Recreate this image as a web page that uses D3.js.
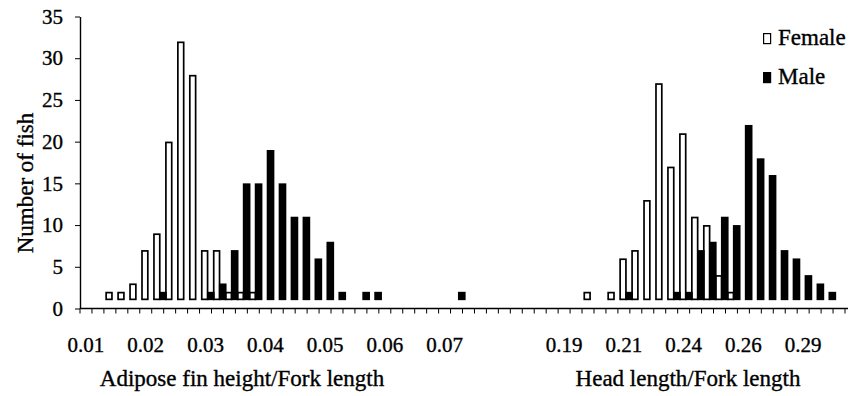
<!DOCTYPE html>
<html>
<head>
<meta charset="utf-8">
<script src="https://cdnjs.cloudflare.com/ajax/libs/d3/7.8.5/d3.min.js"></script>
<style>
    body { margin: 0; background: #fff; }
    #chart text { stroke: #000; stroke-width: 0.35px; }
</style>
</head>
<body>
<div id="chart"></div>
<script>
// adipose fin height / fork length bins (step 0.002)
var adiposeBins = ["0.010", "0.012", "0.014", "0.016", "0.018", "0.020", "0.022", "0.024", "0.026", "0.028",
    "0.030", "0.032", "0.034", "0.036", "0.038", "0.040", "0.042", "0.044", "0.046", "0.048",
    "0.050", "0.052", "0.054", "0.056", "0.058", "0.060", "0.062", "0.064", "0.066", "0.068",
    "0.070", "0.072", "0.074", "0.076", "0.078", "0.080", "0.082", "0.084", "0.086", "0.088"];
var adiposeFemale = [0, 0, 2, 2, 3, 7, 9, 20, 32, 28, 7, 7, 2, 2, 2, 0, 0, 0, 0, 0,
    0, 0, 0, 0, 0, 0, 0, 0, 0, 0, 0, 0, 0, 0, 0, 0, 0, 0, 0, 0];
var adiposeMale = [0, 0, 0, 0, 0, 0, 2, 0, 0, 0, 2, 3, 7, 15, 15, 19, 15, 11, 11, 6,
    8, 2, 0, 2, 2, 0, 0, 0, 0, 0, 0, 2, 0, 0, 0, 0, 0, 0, 0, 0];

// head length / fork length bins (step 0.005)
var headBins = ["0.190", "0.195", "0.200", "0.205", "0.210", "0.215", "0.220", "0.225", "0.230", "0.235",
    "0.240", "0.245", "0.250", "0.255", "0.260", "0.265", "0.270", "0.275", "0.280", "0.285",
    "0.290", "0.295", "0.300", "0.305"];
var headFemale = [0, 0, 2, 0, 2, 6, 7, 13, 27, 17, 21, 11, 10, 4, 2, 0, 0, 0, 0, 0, 0, 0, 0, 0];
var headMale = [0, 0, 0, 0, 0, 2, 0, 0, 0, 2, 2, 7, 8, 11, 10, 22, 18, 16, 7, 6, 4, 3, 2, 0];

var yTicks = [0, 5, 10, 15, 20, 25, 30, 35];
var xTickBins = ["0.010", "0.020", "0.030", "0.040", "0.050", "0.060", "0.070",
    "0.190", "0.215", "0.240", "0.265", "0.290"];
var xTickLabels = ["0.01", "0.02", "0.03", "0.04", "0.05", "0.06", "0.07",
    "0.19", "0.21", "0.24", "0.26", "0.29"];
var seriesNames = ["Female", "Male"];

var width = 852, height = 396;
var margin = { left: 80, right: 7, top: 16.5, bottom: 87.5 };
var barFloor = 1; // bars in the figure start one unit above the axis
var serif = '"Liberation Serif", "Times New Roman", "DejaVu Serif", serif';

var bins = adiposeBins.concat(headBins);
var female = adiposeFemale.concat(headFemale);
var male = adiposeMale.concat(headMale);
var rows = bins.map(function (b, i) {
    return { bin: b, female: female[i], male: male[i] };
});

var svg = d3.select('#chart')
    .append('svg')
    .attr('width', width)
    .attr('height', height);

var xScale = d3.scaleBand()
    .domain(bins)
    .range([margin.left, width - margin.right])
    .padding(0);
var yScale = d3.scaleLinear()
    .domain([0, 35])
    .range([height - margin.bottom, margin.top]);
var bw = xScale.bandwidth();
var y0 = yScale(0);

// female bars (white), drawn first
svg.append('g')
    .selectAll('rect')
    .data(rows.filter(d => d.female > 0))
    .enter()
    .append('rect')
    .attr('x', d => xScale(d.bin) + bw * 0.12 + 0.8)
    .attr('width', bw * 0.62 - 1.6)
    .attr('y', d => yScale(d.female) + 0.8)
    .attr('height', d => yScale(barFloor) - yScale(d.female) - 1.6)
    .style('fill', '#fff')
    .style('stroke', '#000')
    .style('stroke-width', 1.7);

// male bars (black) on top
svg.append('g')
    .selectAll('rect')
    .data(rows.filter(d => d.male > 0))
    .enter()
    .append('rect')
    .attr('x', d => xScale(d.bin) + bw * 0.62)
    .attr('width', bw * 0.64)
    .attr('y', d => yScale(d.male))
    .attr('height', d => yScale(barFloor) - yScale(d.male))
    .style('fill', '#000');

// y axis
var yAxis = svg.append('g')
    .attr('transform', 'translate(' + margin.left + ',0)')
    .call(d3.axisLeft(yScale).tickValues(yTicks).tickSize(5).tickSizeOuter(0).tickPadding(12));
yAxis.select('.domain').style('stroke', '#000').style('stroke-width', 1.4);
yAxis.selectAll('.tick line').style('stroke', '#000');
yAxis.selectAll('text')
    .style('font-family', serif)
    .style('font-size', '21px')
    .style('fill', '#000');

// x axis: line, ticks between bins, labels under chosen bins
svg.append('line')
    .attr('x1', margin.left)
    .attr('x2', width - 4)
    .attr('y1', y0)
    .attr('y2', y0)
    .style('stroke', '#000')
    .style('stroke-width', 1.4);

svg.append('g')
    .selectAll('line')
    .data(bins.concat(['end']))
    .enter()
    .append('line')
    .attr('x1', d => d == 'end' ? xScale.range()[1] : xScale(d))
    .attr('x2', d => d == 'end' ? xScale.range()[1] : xScale(d))
    .attr('y1', y0)
    .attr('y2', y0 + 5)
    .style('stroke', '#000')
    .style('stroke-width', 1);

svg.append('g')
    .selectAll('text')
    .data(xTickBins)
    .enter()
    .append('text')
    .attr('x', d => xScale(d) + bw / 2)
    .attr('y', y0 + 43)
    .style('text-anchor', 'middle')
    .style('font-family', serif)
    .style('font-size', '21px')
    .text((d, i) => xTickLabels[i]);

// axis titles
svg.append('text')
    .attr('x', 242)
    .attr('y', 386)
    .style('text-anchor', 'middle')
    .style('font-family', serif)
    .style('font-size', '23px')
    .text('Adipose fin height/Fork length');
svg.append('text')
    .attr('x', 688)
    .attr('y', 386)
    .style('text-anchor', 'middle')
    .style('font-family', serif)
    .style('font-size', '23px')
    .text('Head length/Fork length');
svg.append('text')
    .attr('transform', 'translate(33,183) rotate(-90)')
    .style('text-anchor', 'middle')
    .style('font-family', serif)
    .style('font-size', '23px')
    .text('Number of fish');

// legend
var legend = svg.append('g')
    .selectAll('g')
    .data(seriesNames)
    .enter()
    .append('g')
    .attr('transform', (d, i) => 'translate(763,' + (33 + i * 39) + ')');
legend.append('rect')
    .attr('x', 0.6)
    .attr('y', 0.6)
    .attr('width', 7)
    .attr('height', 10)
    .style('fill', d => d == 'Female' ? '#fff' : '#000')
    .style('stroke', '#000')
    .style('stroke-width', 1.2);
legend.append('text')
    .attr('x', 15)
    .attr('y', 12)
    .style('font-family', serif)
    .style('font-size', '23px')
    .text(d => d);
</script>
</body>
</html>
